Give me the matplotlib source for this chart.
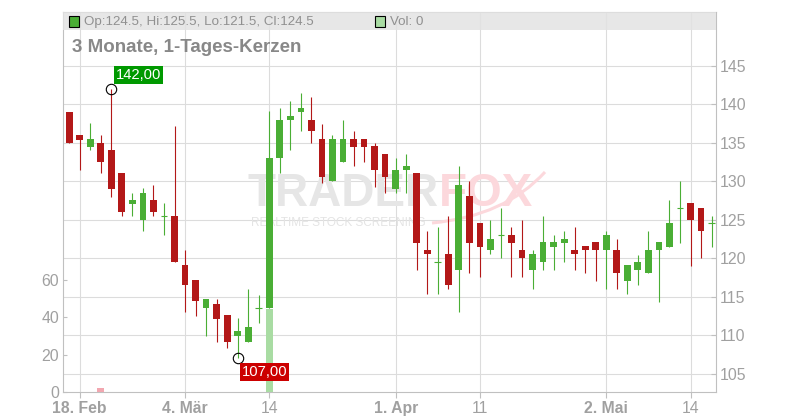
import numpy as np
import pandas as pd
import matplotlib
matplotlib.use("Agg")
import matplotlib.pyplot as plt
from matplotlib.patches import Rectangle, PathPatch
from matplotlib.path import Path

plt.rcParams['font.family'] = ['Liberation Sans', 'DejaVu Sans']

# trading days (Xetra calendar, Good Friday / Easter Monday / 1 May closed)
dates = pd.bdate_range("2019-02-15", "2019-05-16")
dates = dates[~dates.isin(pd.to_datetime(["2019-04-19", "2019-04-22", "2019-05-01"]))]

opens = [139.0, 136.0, 134.4, 135.0, 134.1, 131.1, 127.0, 124.9, 127.6, 125.5,
         125.5, 119.05, 117.1, 113.5, 114.1, 112.65, 109.95, 109.05, 113.5, 113.5,
         133.0, 137.9, 138.95, 138.0, 135.5, 130.0, 132.45, 135.5, 135.5, 134.5,
         133.55, 128.95, 131.4, 131.1, 121.1, 119.5, 120.6, 118.5, 128.1, 124.6,
         121.0, 123.05, 123.05, 121.1, 118.5, 119.45, 121.5, 121.95, 121.1, 121.6,
         122.05, 121.0, 121.1, 117.0, 118.5, 118.05, 121.0, 121.5, 126.55, 127.1,
         126.55, 124.5]
highs = [139.0, 136.0, 137.5, 136.0, 142.0, 131.1, 128.5, 129.05, 129.55, 127.1,
         137.1, 121.1, 117.1, 114.65, 114.65, 112.65, 112.2, 116.05, 115.15, 139.05,
         139.55, 140.45, 141.5, 140.95, 137.45, 136.0, 138.0, 136.55, 135.5, 135.0,
         133.55, 133.05, 133.55, 131.1, 123.55, 124.1, 125.5, 132.0, 130.05, 124.6,
         125.0, 126.55, 124.1, 125.0, 121.1, 125.5, 123.05, 123.55, 124.1, 121.6,
         122.05, 123.55, 122.55, 119.05, 120.35, 123.55, 122.05, 127.6, 130.05, 127.1,
         126.55, 125.5]
lows = [134.9, 131.4, 134.0, 131.0, 128.0, 125.45, 125.45, 123.5, 125.45, 123.0,
        119.45, 113.0, 112.55, 109.95, 109.05, 108.3, 107.0, 109.05, 111.55, 113.5,
        131.0, 134.0, 136.45, 134.9, 129.75, 130.0, 132.45, 131.95, 132.45, 129.25,
        128.4, 128.4, 128.4, 118.5, 115.35, 115.35, 115.95, 112.95, 118.05, 117.5,
        120.5, 120.0, 117.5, 117.5, 115.95, 118.5, 118.5, 119.45, 118.5, 118.05,
        117.0, 115.95, 115.95, 115.35, 116.45, 118.05, 114.25, 121.5, 121.95, 118.95,
        120.0, 121.5]
closes = [134.9, 135.4, 135.5, 132.45, 128.95, 125.95, 127.6, 128.5, 125.95, 125.5,
          119.45, 116.45, 114.5, 114.65, 112.05, 109.05, 110.6, 111.1, 113.5, 133.05,
          138.0, 138.5, 139.55, 136.45, 130.5, 135.5, 135.5, 134.4, 134.4, 131.4,
          130.5, 131.5, 132.0, 121.95, 120.5, 119.5, 116.45, 129.55, 121.95, 121.5,
          122.55, 123.05, 121.95, 120.0, 120.6, 122.05, 122.05, 122.55, 120.5, 121.0,
          121.0, 123.05, 118.05, 119.05, 119.55, 121.1, 122.05, 124.6, 126.55, 124.9,
          123.5, 124.5]
volumes = [0, 0, 0, 2.3, 0, 0, 0, 0, 0, 0, 0, 0, 0, 0, 0, 0, 0, 0, 0, 44.6,
           0, 0, 0, 0, 0, 0, 0, 0, 0, 0, 0, 0, 0, 0, 0, 0, 0, 0, 0, 0,
           0, 0, 0, 0, 0, 0, 0, 0, 0, 0, 0, 0, 0, 0, 0, 0, 0, 0, 0, 0, 0, 0]

tick_dates = ["2019-02-18", "2019-03-04", "2019-03-14", "2019-04-01",
              "2019-04-11", "2019-05-02", "2019-05-14"]
tick_labels = ["18. Feb", "4. Mär", "14", "1. Apr", "11", "2. Mai", "14"]
bold_ticks = [True, True, False, True, False, True, False]

RED = "#b31818"
GREEN = "#4aae35"
VOL_RED = "#f2a7b0"
VOL_GREEN = "#a9dca3"
GRAY_TXT = "#a0a0a0"

o = np.array(opens); h = np.array(highs); l = np.array(lows); c = np.array(closes)
x = np.arange(len(dates))
up = c >= o
cols = np.where(up, GREEN, RED)

W, H = 800, 420
L, R, T, B = 63, 716.3, 11.7, 392.3
fig = plt.figure(figsize=(8, 4.2), dpi=100)
ax = fig.add_axes([L / W, 1 - B / H, (R - L) / W, (B - T) / H])
axv = ax.twinx()

# candles
ax.vlines(x, l, h, colors=cols, lw=0.8, zorder=3)
body = np.abs(c - o)
ax.bar(x, body, bottom=np.minimum(o, c), width=0.64, color=cols, zorder=4, linewidth=0)
doji = body == 0
ax.hlines(c[doji], x[doji] - 0.32, x[doji] + 0.32, colors=GREEN, lw=0.8, zorder=4)

# volume
axv.bar(x, volumes, width=0.64, color=np.where(up, VOL_GREEN, VOL_RED), linewidth=0)

# high / low markers
ax.plot([4], [142.0], "o", mfc="none", mec="black", ms=7.5, mew=0.8, zorder=6)
ax.plot([16], [107.0], "o", mfc="none", mec="black", ms=7.5, mew=0.8, zorder=6)
axv.annotate("142,00", xy=(4, 142.0), xycoords=ax.transData, xytext=(4.3, 6.5),
             textcoords="offset pixels", ha="left", va="bottom", color="white", fontsize=10.6,
             bbox=dict(boxstyle="square,pad=0.12", fc="#009900", ec="none"))
axv.annotate("107,00", xy=(16, 107.0), xycoords=ax.transData, xytext=(4.0, -6.5),
             textcoords="offset pixels", ha="left", va="top", color="white", fontsize=10.6,
             bbox=dict(boxstyle="square,pad=0.12", fc="#cc0000", ec="none"))

# axes
ax.set_xlim(-0.59, 61.45)
ax.set_ylim(102.58, 152.0)
axv.set_ylim(0, 202.8)
pos = [dates.get_loc(pd.Timestamp(d)) for d in tick_dates]
ax.set_xticks(pos)
ax.set_xticklabels(tick_labels)
for lab, b in zip(ax.get_xticklabels(), bold_ticks):
    lab.set_fontweight("bold" if b else "normal")
ax.set_yticks(range(105, 150, 5))
ax.yaxis.tick_right()
axv.yaxis.tick_left()
axv.set_yticks([0, 20, 40, 60])

ax.set_axisbelow(True)
ax.grid(True, color="#dcdcdc", lw=0.8)
ax.tick_params(axis="x", direction="out", length=4, color="#c0c0c0", labelcolor=GRAY_TXT,
               labelsize=11.3, pad=2.5)
ax.tick_params(axis="y", direction="in", length=3.6, color="#c0c0c0", labelcolor=GRAY_TXT,
               labelsize=11.4, pad=2.7)
axv.tick_params(axis="y", direction="in", length=2.9, color="#c0c0c0", labelcolor=GRAY_TXT,
                labelsize=11.4, pad=2.7)
for s in ax.spines.values():
    s.set_color("#c0c0c0")
    s.set_linewidth(0.8)
for s in axv.spines.values():
    s.set_visible(False)

# watermark
ax.text(439 / W, 1 - 205.5 / H, "TRADER", transform=fig.transFigure, ha="right",
        va="baseline", fontsize=33, fontweight="bold", color="#e6e6e6", zorder=1)
ax.text(439 / W, 1 - 205.5 / H, "FOX", transform=fig.transFigure, ha="left",
        va="baseline", fontsize=33, fontweight="bold", color="#fcd8dc", zorder=1)
ax.text(338 / W, 1 - 226 / H, "REALTIME STOCK SCREENING", transform=fig.transFigure,
        ha="center", va="baseline", fontsize=8.5, color="#e4e4e4", zorder=1)
swoosh = Path([(432 / W, 1 - 223 / H), (505 / W, 1 - 216 / H), (545 / W, 1 - 172 / H)],
              [Path.MOVETO, Path.CURVE3, Path.CURVE3])
ax.add_patch(PathPatch(swoosh, transform=fig.transFigure, fc="none", ec="#fcd8dc",
                       lw=2.2, zorder=1))

# header band
fig.add_artist(Rectangle((L / W, 1 - 30 / H), (R - L) / W, (30 - 12.3) / H,
                         transform=fig.transFigure, fc="#e3e3e3", ec="none", alpha=0.85, zorder=1))
fig.add_artist(Rectangle((68.5 / W, 1 - 26.5 / H), 10 / W, 10 / H, transform=fig.transFigure,
                         fc=GREEN, ec="black", lw=0.8, zorder=2))
fig.add_artist(Rectangle((374.5 / W, 1 - 26.5 / H), 10 / W, 10 / H, transform=fig.transFigure,
                         fc=VOL_GREEN, ec="black", lw=0.8, zorder=2))
fig.text(84 / W, 1 - 21.7 / H, "Op:124.5, Hi:125.5, Lo:121.5, Cl:124.5", ha="left",
         va="center", fontsize=9.6, color="#909090")
fig.text(390 / W, 1 - 21.7 / H, "Vol: 0", ha="left", va="center", fontsize=9.6, color="#909090")
fig.text(72 / W, 1 - 48 / H, "3 Monate, 1-Tages-Kerzen", ha="left", va="center",
         fontsize=13.5, fontweight="bold", color="#888888")

fig.savefig("out.png", dpi=100)
